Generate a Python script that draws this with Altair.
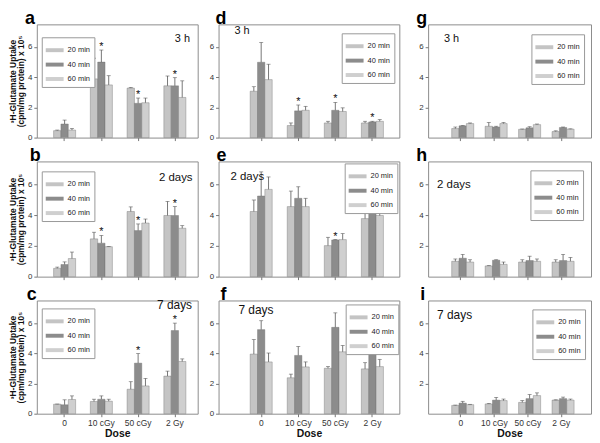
import altair as alt
import pandas as pd

DOSES = ["0", "10 cGy", "50 cGy", "2 Gy"]
TIMES = ["20 min", "40 min", "60 min"]
BAR_COLORS = ["#c4c4c4", "#8c8c8c", "#cfcfcf"]

# Means per series (20, 40, 60 min) and upper end of error bars
A_MEAN = [[0.46, 3.89, 3.28, 3.43], [0.90, 5.00, 2.27, 3.43], [0.50, 3.49, 2.31, 2.66]]
A_UP = [[0.50, 5.26, 3.32, 4.08], [1.16, 5.80, 2.62, 3.97], [0.60, 4.10, 2.62, 3.76]]
A_STAR = ["10 cGy", "50 cGy", "2 Gy"]

B_MEAN = [[0.54, 2.46, 4.24, 3.98], [0.79, 2.18, 3.00, 3.98], [1.18, 1.95, 3.49, 3.15]]
B_UP = [[0.62, 2.89, 4.54, 4.90], [0.96, 2.68, 3.43, 4.56], [1.60, 1.97, 3.75, 3.32]]
B_STAR = ["10 cGy", "50 cGy", "2 Gy"]

C_MEAN = [[0.63, 0.81, 1.62, 2.49], [0.59, 0.96, 3.35, 5.51], [0.94, 0.83, 1.84, 3.46]]
C_UP = [[0.64, 0.96, 2.12, 2.82], [0.92, 1.18, 3.98, 6.00], [1.18, 0.96, 2.34, 3.63]]
C_STAR = ["50 cGy", "2 Gy"]

D_MEAN = [[3.07, 0.80, 0.97, 0.97], [4.99, 1.77, 1.81, 1.04], [3.84, 1.81, 1.73, 1.08]]
D_UP = [[3.37, 0.97, 1.08, 1.08], [6.30, 2.16, 2.33, 1.08], [4.86, 2.07, 1.97, 1.19]]
D_STAR = ["10 cGy", "50 cGy", "2 Gy"]

E_MEAN = [[4.24, 4.56, 2.02, 3.78], [5.25, 5.10, 2.39, 4.43], [5.68, 4.56, 2.41, 3.98]]
E_UP = [[4.99, 5.57, 2.56, 4.49], [6.82, 5.85, 2.41, 5.14], [6.49, 5.10, 2.80, 4.28]]
E_STAR = ["50 cGy"]

F_MEAN = [[3.95, 2.38, 3.01, 2.97], [5.57, 3.86, 5.72, 4.10], [3.43, 3.10, 4.10, 3.12]]
F_UP = [[4.91, 2.62, 3.12, 3.38], [6.16, 4.45, 6.68, 4.45], [4.02, 3.43, 4.52, 3.60]]
F_STAR = []

G_MEAN = [[0.60, 0.75, 0.55, 0.40], [0.78, 0.70, 0.65, 0.67], [0.93, 0.93, 0.86, 0.56]]
G_UP = [[0.70, 1.00, 0.57, 0.45], [0.80, 0.75, 0.72, 0.70], [0.97, 1.00, 0.90, 0.58]]
G_STAR = []

H_MEAN = [[1.00, 0.70, 0.95, 0.95], [1.20, 1.07, 1.05, 1.05], [0.95, 0.80, 1.00, 1.00]]
H_UP = [[1.15, 0.72, 1.10, 1.10], [1.45, 1.10, 1.33, 1.45], [1.10, 0.95, 1.15, 1.25]]
H_STAR = []

I_MEAN = [[0.55, 0.65, 0.75, 0.90], [0.70, 0.90, 1.00, 1.00], [0.60, 0.87, 1.20, 0.90]]
I_UP = [[0.57, 0.68, 0.87, 0.92], [0.82, 1.08, 1.27, 1.10], [0.62, 0.97, 1.38, 0.97]]
I_STAR = []

FONT = "Liberation Sans"

# layout per column / row
COL_W = [162, 182, 164]
COL_PI = [0.4, 0.4, 0.45]
COL_PO = [0.389, 0.638, 0.659]
COL_AL = [0.587, 0.668, 0.534]
ROW_H = [114, 116, 114]


def make_df(mean, up, stars):
    rows = []
    for ti, t in enumerate(TIMES):
        for di, d in enumerate(DOSES):
            rows.append({
                "dose": d, "time": t,
                "mean": mean[ti][di], "upper": up[ti][di],
                "star": 1 if (t == "40 min" and d in stars) else 0,
            })
    return pd.DataFrame(rows)


def panel(letter, letter_dx, label, label_xy, label_size, mean, up, stars,
          col, row, legend_xy):
    df = make_df(mean, up, stars)
    w = COL_W[col]
    xscale = alt.Scale(domain=DOSES, paddingInner=COL_PI[col],
                       paddingOuter=COL_PO[col], align=COL_AL[col])
    if row == 2:
        xaxis = alt.Axis(labels=True, ticks=True, tickSize=3, labelAngle=0,
                         labelFontSize=8.5, labelPadding=2, title="Dose",
                         titleFontSize=10.5, titleFontWeight="bold",
                         titlePadding=1, titleFont=FONT)
    else:
        xaxis = alt.Axis(labels=False, ticks=True, tickSize=3)
    common = dict(tickSize=3, labelPadding=2, labelOverlap=False,
                  labelFlush=False, tickCount=10)
    if col == 0:
        yaxis = alt.Axis(values=[0, 2, 4, 6],
                         title=["\u00b3H-Glutamate Uptake",
                                "(cpm/mg protein) x 10\u2075"],
                         titleFontSize=8.5, titleFontWeight="bold",
                         titleFont=FONT, titlePadding=1, titleLineHeight=8,
                         minExtent=10, maxExtent=10, **common)
        ytitle = True
    elif col == 1:
        yaxis = alt.Axis(values=[0, 2, 4, 6], minExtent=15, maxExtent=15,
                         **common)
        ytitle = False
    else:
        yaxis = alt.Axis(values=[2, 4, 6], minExtent=23, maxExtent=23,
                         **common)
        ytitle = False

    x_enc = alt.X("dose:N", scale=xscale, axis=xaxis, sort=DOSES, title=None)
    xo_enc = alt.XOffset("time:N", sort=TIMES,
                         scale=alt.Scale(domain=TIMES, paddingInner=0, paddingOuter=0))
    yscale = alt.Scale(domain=[0, 7.5], nice=False, zero=True)
    if ytitle:
        y_enc = alt.Y("mean:Q", scale=yscale, axis=yaxis)
    else:
        y_enc = alt.Y("mean:Q", scale=yscale, axis=yaxis, title=None)

    legend = alt.Legend(title=None, orient="none",
                        legendX=legend_xy[0], legendY=legend_xy[1])

    base = alt.Chart(df)
    bars = base.mark_bar(stroke="#6f6f6f", strokeWidth=0.4).encode(
        x=x_enc, xOffset=xo_enc, y=y_enc,
        color=alt.Color("time:N", sort=TIMES,
                        scale=alt.Scale(domain=TIMES, range=BAR_COLORS),
                        legend=legend),
    )
    rules = base.mark_rule(color="#555555", strokeWidth=0.8).encode(
        x=x_enc, xOffset=xo_enc, y="mean:Q", y2="upper:Q")
    caps = base.mark_tick(color="#555555", size=4, thickness=0.8,
                          orient="horizontal").encode(
        x=x_enc, xOffset=xo_enc, y="upper:Q")
    star = base.transform_filter("datum.star == 1").mark_text(
        text="*", fontSize=11, dy=0, baseline="alphabetic", font=FONT,
        color="#111111").encode(x=x_enc, xOffset=xo_enc, y="upper:Q")
    texts = alt.Chart(pd.DataFrame({"t": [label, letter],
                                    "kind": ["label", "letter"]}))
    lab = texts.transform_filter("datum.kind == 'label'").mark_text(
        align="left", baseline="alphabetic", fontSize=label_size, font=FONT,
        color="#111111").encode(
        x=alt.value(label_xy[0]), y=alt.value(label_xy[1]), text="t:N")
    let = texts.transform_filter("datum.kind == 'letter'").mark_text(
        align="left", baseline="alphabetic", fontSize=18, fontWeight="bold",
        font=FONT, color="#000000").encode(
        x=alt.value(letter_dx), y=alt.value(0), text="t:N")

    return alt.layer(bars, rules, caps, star, lab, let).properties(
        width=w, height=ROW_H[row])


pa = panel("a", -12, "3 h", (139, 18), 11, A_MEAN, A_UP, A_STAR, 0, 0, (5, 13))
pb = panel("b", -7, "2 days", (123, 20), 11.5, B_MEAN, B_UP, B_STAR, 0, 1, (5, 10))
pc = panel("c", -10, "7 days", (121, 9), 12, C_MEAN, C_UP, C_STAR, 0, 2, (5, 8))
pd_ = panel("d", -3, "3 h", (16, 10), 11, D_MEAN, D_UP, D_STAR, 1, 0, (124, 9))
pe = panel("e", -2, "2 days", (12, 19), 11.5, E_MEAN, E_UP, E_STAR, 1, 1, (127, 2))
pf = panel("f", 2, "7 days", (20, 14), 12, F_MEAN, F_UP, F_STAR, 1, 2, (128, 4))
pg = panel("g", -12, "3 h", (16, 18), 11, G_MEAN, G_UP, G_STAR, 2, 0, (104, 10))
ph = panel("h", -12, "2 days", (9, 27), 11.5, H_MEAN, H_UP, H_STAR, 2, 1, (103, 9))
pi = panel("i", -8, "7 days", (9, 19), 12, I_MEAN, I_UP, I_STAR, 2, 2, (105, 9))


def row_of(*charts):
    return alt.hconcat(*charts, spacing=4).resolve_scale(
        color="independent").resolve_legend(color="independent")


chart = alt.vconcat(
    row_of(pa, pd_, pg), row_of(pb, pe, ph), row_of(pc, pf, pi), spacing=4
).resolve_scale(color="independent").resolve_legend(
    color="independent"
).properties(
    padding={"left": 0, "top": 0, "right": 0, "bottom": 0}
).configure_view(
    stroke="#8c8c8c", strokeWidth=1
).configure_axis(
    domain=False, grid=False, tickColor="#777777", labelColor="#333333",
    labelFont=FONT, labelFontSize=8, titleColor="#111111"
).configure_legend(
    symbolType="M-1,-0.22H1V0.22H-1Z", symbolSize=324, symbolStrokeWidth=0,
    labelFont=FONT, labelFontSize=7.5, labelColor="#222222", labelOffset=4,
    strokeColor="#999999", fillColor="#ffffff", padding=4, rowPadding=1.5,
    symbolOpacity=1
)

chart.save("out.html", embed_options={"renderer": "svg", "actions": False})
